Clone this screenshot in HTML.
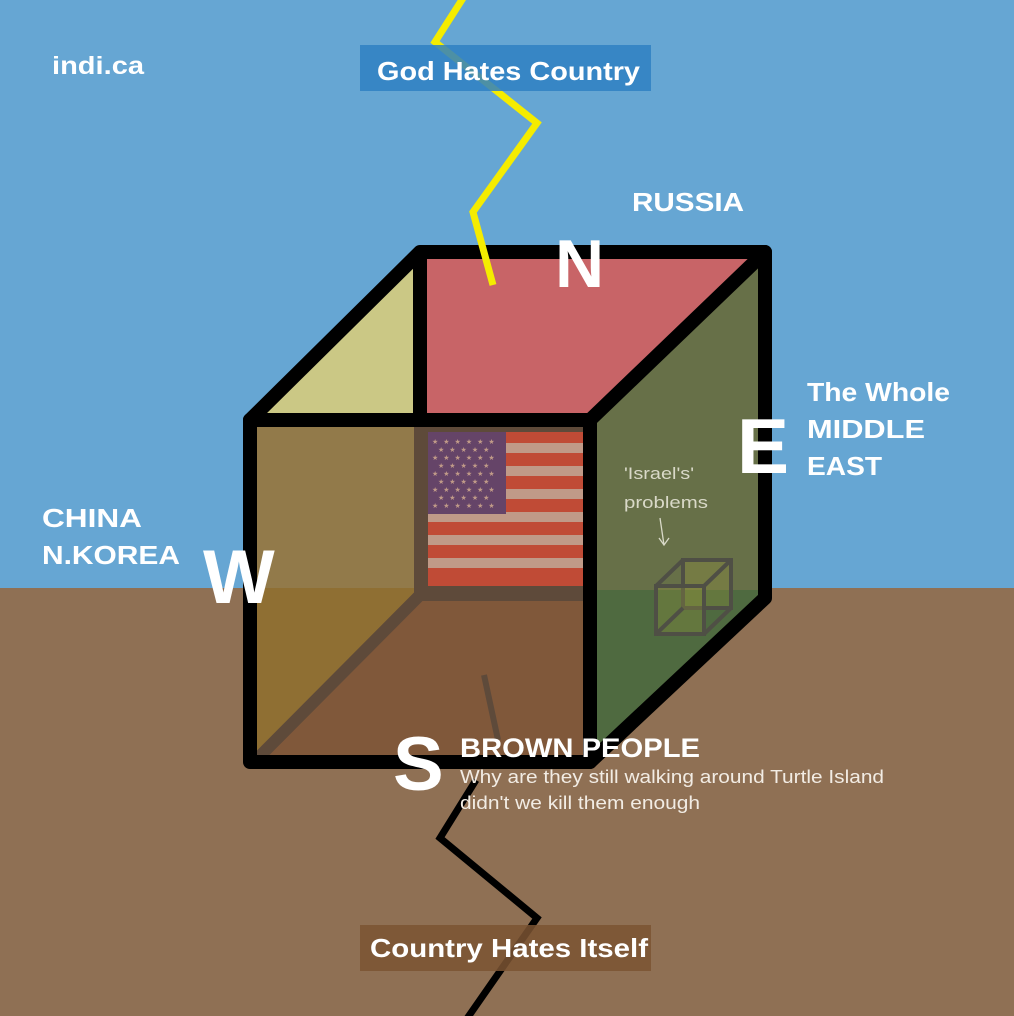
<!DOCTYPE html>
<html><head><meta charset="utf-8"><style>
html,body{margin:0;padding:0}
body{width:1014px;height:1016px;overflow:hidden;position:relative;font-family:"Liberation Sans",sans-serif}
</style></head><body>
<svg width="1014" height="1016" viewBox="0 0 1014 1016" xmlns="http://www.w3.org/2000/svg" style="position:absolute;left:0;top:0">
<rect x="0" y="0" width="1014" height="588" fill="#66a6d3"/>
<rect x="0" y="588" width="1014" height="428" fill="#8f7054"/>
<!-- faces -->
<polygon points="250,420 420,252 420,420" fill="#cbc885"/>
<polygon points="420,252 765,252 590,420 420,420" fill="#c86467"/>
<polygon points="590,420 765,252 765,598 590,762" fill="#677048"/>
<polygon points="590,590 765,590 765,598 590,762" fill="#4f6a40"/>
<rect x="250" y="420" width="170" height="170" fill="#927a4a"/>
<polygon points="250,588 420,588 420,595 255,762 250,762" fill="#8f6f33"/>
<polygon points="420,595 590,595 590,762 255,762" fill="#80583a"/>
<rect x="420" y="420" width="170" height="175" fill="#5e4a3a"/>
<!-- flag -->
<g>
<rect x="428" y="432" width="155" height="154" fill="#c04b36"/>
<g fill="#c09a88">
<rect x="428" y="443" width="155" height="10"/><rect x="428" y="466" width="155" height="10"/><rect x="428" y="489" width="155" height="10"/><rect x="428" y="512" width="155" height="10"/><rect x="428" y="535" width="155" height="10"/><rect x="428" y="558" width="155" height="10"/>
</g>
<rect x="428" y="432" width="78" height="82" fill="#654468"/>
<g fill="#c09a88" font-size="7">
<text x="432" y="444" letter-spacing="5">★★★★★★</text>
<text x="438" y="452" letter-spacing="5">★★★★★</text>
<text x="432" y="460" letter-spacing="5">★★★★★★</text>
<text x="438" y="468" letter-spacing="5">★★★★★</text>
<text x="432" y="476" letter-spacing="5">★★★★★★</text>
<text x="438" y="484" letter-spacing="5">★★★★★</text>
<text x="432" y="492" letter-spacing="5">★★★★★★</text>
<text x="438" y="500" letter-spacing="5">★★★★★</text>
<text x="432" y="508" letter-spacing="5">★★★★★★</text>
</g>
</g>
<!-- hidden edges -->
<g stroke="#5e4a3a" stroke-width="12" fill="none">
<line x1="420" y1="420" x2="420" y2="595"/>
<line x1="420" y1="595" x2="590" y2="595"/>
<line x1="420" y1="595" x2="258" y2="758"/>
</g>
<line x1="484" y1="675" x2="498" y2="740" stroke="#5e4a3a" stroke-width="6"/>
<!-- small cube -->
<g stroke="#4f4f45" stroke-width="4" fill="rgba(150,150,60,0.3)">
<rect x="683" y="560" width="48" height="48"/>
<rect x="656" y="586" width="48" height="48"/>
<line x1="656" y1="586" x2="683" y2="560"/><line x1="704" y1="586" x2="731" y2="560"/>
<line x1="704" y1="634" x2="731" y2="608"/><line x1="656" y1="634" x2="683" y2="608"/>
</g>
<!-- black edges -->
<g stroke="#000" stroke-width="14" fill="none" stroke-linejoin="round" stroke-linecap="round">
<polyline points="420,420 420,252 765,252 765,598 590,762 250,762 250,420 420,252"/>
<polyline points="250,420 590,420 765,252"/>
<line x1="590" y1="420" x2="590" y2="762"/>
</g>
<!-- lightning -->
<polyline points="476,780 440,838 537,918 466,1020" fill="none" stroke="#000" stroke-width="7"/>
<polyline points="465,-5 435,42 537,123 473,212 493,285" fill="none" stroke="#f5ec00" stroke-width="7"/>
<!-- label boxes (semi transparent over lightning) -->
<rect x="360" y="45" width="291" height="46" fill="#2f80c2" fill-opacity="0.85"/>
<rect x="360" y="925" width="291" height="46" fill="#7b5332" fill-opacity="0.85"/>
<g fill="#fff" font-weight="bold" lengthAdjust="spacingAndGlyphs">
<text x="52" y="74" font-size="25" textLength="92" lengthAdjust="spacingAndGlyphs">indi.ca</text>
<text x="377" y="80" font-size="26" textLength="263" lengthAdjust="spacingAndGlyphs">God Hates Country</text>
<text x="370" y="957" font-size="26" textLength="278" lengthAdjust="spacingAndGlyphs">Country Hates Itself</text>
<text x="632" y="211" font-size="26" textLength="112" lengthAdjust="spacingAndGlyphs">RUSSIA</text>
<text x="555" y="287" font-size="68">N</text>
<text x="807" y="401" font-size="26" textLength="143" lengthAdjust="spacingAndGlyphs">The Whole</text>
<text x="807" y="438" font-size="26" textLength="118" lengthAdjust="spacingAndGlyphs">MIDDLE</text>
<text x="807" y="475" font-size="26" textLength="75" lengthAdjust="spacingAndGlyphs">EAST</text>
<text x="737" y="473" font-size="78">E</text>
<text x="42" y="527" font-size="26" textLength="100" lengthAdjust="spacingAndGlyphs">CHINA</text>
<text x="42" y="564" font-size="26" textLength="138" lengthAdjust="spacingAndGlyphs">N.KOREA</text>
<text x="203" y="603" font-size="76">W</text>
<text x="393" y="790" font-size="76">S</text>
<text x="460" y="757" font-size="27" textLength="240" lengthAdjust="spacingAndGlyphs">BROWN PEOPLE</text>
</g>
<g fill="#f2ece4" font-size="18">
<text x="460" y="783" textLength="424" lengthAdjust="spacingAndGlyphs">Why are they still walking around Turtle Island</text>
<text x="460" y="809" textLength="240" lengthAdjust="spacingAndGlyphs">didn't we kill them enough</text>
</g>
<g fill="#d9d9c8" font-size="17">
<text x="624" y="479" textLength="70" lengthAdjust="spacingAndGlyphs">'Israel's'</text>
<text x="624" y="508" textLength="84" lengthAdjust="spacingAndGlyphs">problems</text>
</g>
<path d="M660,518 L664,545 M659,538 L664,545 L669,538" fill="none" stroke="#d9d9c8" stroke-width="1.3"/>
</svg>
</body></html>
